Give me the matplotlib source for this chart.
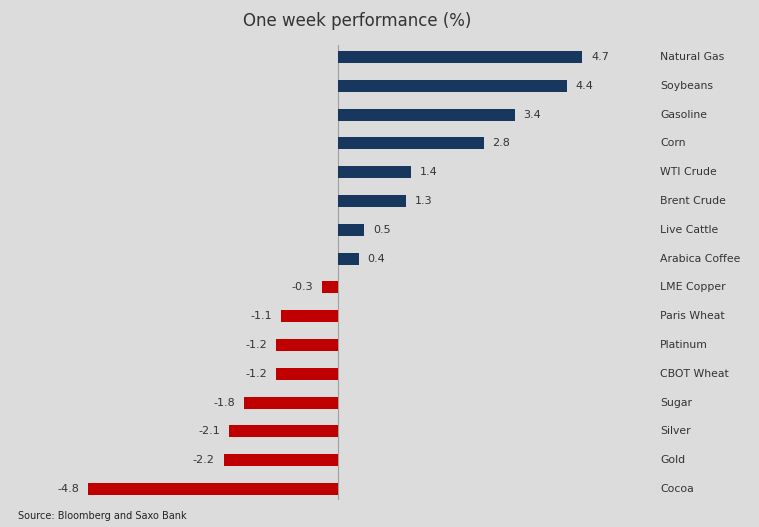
import matplotlib.pyplot as plt
from matplotlib.transforms import blended_transform_factory

# One week performance of commodities (%)
commodities = ["Natural Gas", "Soybeans", "Gasoline", "Corn", "WTI Crude",
               "Brent Crude", "Live Cattle", "Arabica Coffee", "LME Copper",
               "Paris Wheat", "Platinum", "CBOT Wheat", "Sugar", "Silver",
               "Gold", "Cocoa"]
performance = [4.7, 4.4, 3.4, 2.8, 1.4, 1.3, 0.5, 0.4, -0.3, -1.1, -1.2,
               -1.2, -1.8, -2.1, -2.2, -4.8]

bg = "#dcdcdc"
blue = "#17375e"
red = "#c00000"
text_col = "#333333"

W, H = 759, 527
fig = plt.figure(figsize=(W / 100, H / 100), dpi=100, facecolor=bg)

# axes placed in pixel coordinates: zero at x=338, ~52 px per unit
ax_left, ax_right = 40, 650
ax_top, ax_bottom = 45, 500
ax = fig.add_axes([ax_left / W, 1 - ax_bottom / H,
                   (ax_right - ax_left) / W, (ax_bottom - ax_top) / H])
ax.set_facecolor(bg)
scale = 52.0
ax.set_xlim((ax_left - 338) / scale, (ax_right - 338) / scale)
step = 28.8
ax.set_ylim((ax_bottom - 57) / step, (ax_top - 57) / step)

pos = list(range(len(commodities)))
colors = [blue if v >= 0 else red for v in performance]
ax.barh(pos, performance, height=0.42, color=colors, zorder=2)
ax.axvline(0, color="#a0a0a0", linewidth=0.8, zorder=1)

# value labels just beyond each bar end
for y, v in zip(pos, performance):
    if v >= 0:
        ax.text(v + 0.17, y, f"{v:.1f}", ha="left", va="center",
                fontsize=8, color=text_col)
    else:
        ax.text(v - 0.17, y, f"{v:.1f}", ha="right", va="center",
                fontsize=8, color=text_col)

# category labels in a column on the right
label_tr = blended_transform_factory(fig.transFigure, ax.transData)
for y, name in zip(pos, commodities):
    ax.text(660 / W, y, name, transform=label_tr, ha="left", va="center",
            fontsize=7.8, color=text_col)

for s in ax.spines.values():
    s.set_visible(False)
ax.set_xticks([])
ax.set_yticks([])

fig.text(243 / W, 1 - 21 / H, "One week performance (%)", ha="left",
         va="center", fontsize=12, color=text_col)
fig.text(18 / W, 1 - 516 / H, "Source: Bloomberg and Saxo Bank", ha="left",
         va="center", fontsize=7, color="#222222")

fig.savefig("out.png", dpi=100, facecolor=bg)
